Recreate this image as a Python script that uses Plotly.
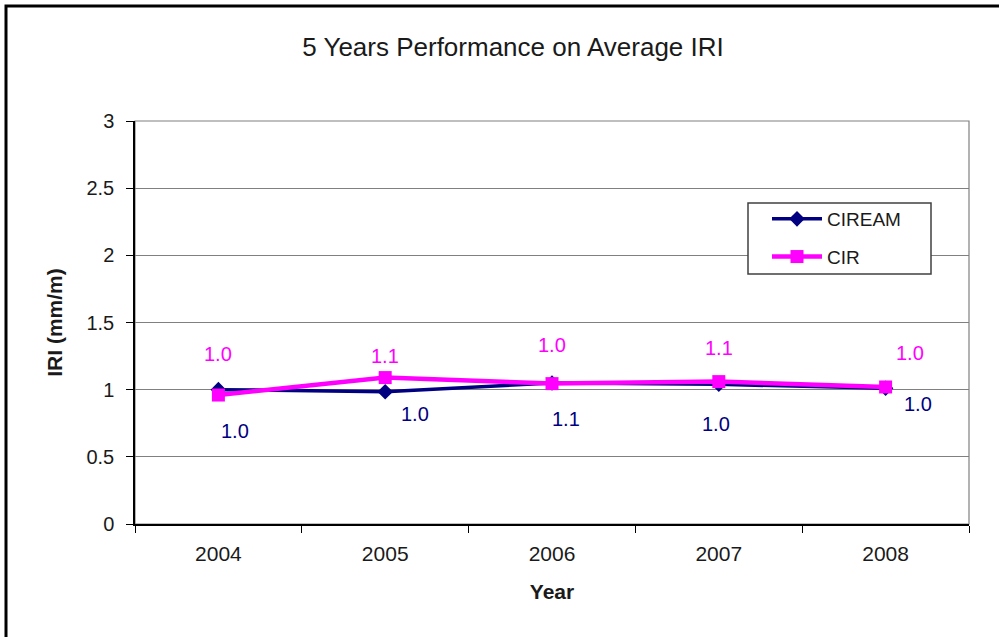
import plotly.graph_objects as go

years = ["2004", "2005", "2006", "2007", "2008"]
ciream = [1.00, 0.985, 1.05, 1.04, 1.01]
cir = [0.96, 1.09, 1.045, 1.06, 1.02]
y_ticks = [0, 0.5, 1, 1.5, 2, 2.5, 3]
y_tick_labels = ["0", "0.5", "1", "1.5", "2", "2.5", "3"]

# label offsets (pixels) for the data labels
cir_shift = [(0, 41), (0, 22), (0, 39), (0, 34), (24, 34)]
ciream_shift = [(17, -41), (30, -22), (14, -36), (-3, -40), (32, -16)]

NAVY = "#000080"
MAGENTA = "#FF00FF"
FONT = "Liberation Sans, Arial, sans-serif"
TXT = "#1a1a1a"

W, H = 999, 637
PL, PR, PT, PB = 135, 969, 121, 524
pw, ph = PR - PL, PB - PT

def px_x(x):
    return (x - PL) / pw

def px_y(y):
    return 1 - (y - PT) / ph

fig = go.Figure()
fig.add_trace(go.Scatter(
    x=years, y=ciream, name="CIREAM", mode="lines+markers", legendgroup="a",
    line=dict(color=NAVY, width=3.5),
    marker=dict(symbol="diamond", size=12, color=NAVY),
))
fig.add_trace(go.Scatter(
    x=years, y=cir, name="CIR", mode="lines+markers", legendgroup="b",
    line=dict(color=MAGENTA, width=4.5),
    marker=dict(symbol="square", size=13, color=MAGENTA),
))

annotations = []
for i, yr in enumerate(years):
    annotations.append(dict(
        x=i, y=cir[i], xref="x", yref="y", text=f"{cir[i]:.1f}",
        showarrow=False, xshift=cir_shift[i][0], yshift=cir_shift[i][1],
        font=dict(family=FONT, size=20, color=MAGENTA)))
    annotations.append(dict(
        x=i, y=ciream[i], xref="x", yref="y", text=f"{ciream[i]:.1f}",
        showarrow=False, xshift=ciream_shift[i][0], yshift=ciream_shift[i][1],
        font=dict(family=FONT, size=20, color=NAVY)))

fig.update_layout(
    width=W, height=H,
    paper_bgcolor="white", plot_bgcolor="white",
    margin=dict(l=PL, r=W - PR, t=PT, b=H - PB),
    font=dict(family=FONT, size=20, color=TXT),
    title=dict(text="5 Years Performance on Average IRI", x=513 / W, xanchor="center",
               y=1 - 47 / H, yanchor="middle",
               font=dict(family=FONT, size=26, color=TXT)),
    showlegend=True,
    legend=dict(x=px_x(767), y=px_y(200), xanchor="left", yanchor="top",
                bgcolor="rgba(0,0,0,0)", borderwidth=0,
                font=dict(family=FONT, size=19, color=TXT),
                itemwidth=50, traceorder="grouped", tracegroupgap=10),
    annotations=annotations,
    shapes=[
        dict(type="rect", xref="paper", yref="paper", x0=0, x1=1, y0=0, y1=1,
             line=dict(color="#808080", width=1.2), layer="below"),
        # legend box
        dict(type="rect", xref="paper", yref="paper",
             x0=px_x(748), x1=px_x(931), y0=px_y(274), y1=px_y(203),
             fillcolor="white", line=dict(color="#404040", width=1.5), layer="above"),
        # outer frame
        dict(type="rect", xref="paper", yref="paper",
             x0=px_x(6), x1=1.1, y0=-0.5, y1=px_y(6),
             line=dict(color="black", width=3)),
    ],
)
fig.update_xaxes(
    type="category", range=[-0.5, 4.5], tickson="boundaries",
    ticks="outside", ticklen=7, tickcolor="black",
    showline=True, linecolor="black", linewidth=1.5,
    showgrid=False, ticklabelstandoff=10,
    tickfont=dict(family=FONT, size=21, color=TXT),
    title=dict(text="<b>Year</b>", font=dict(family=FONT, size=21, color=TXT), standoff=20),
)
fig.update_yaxes(
    range=[0, 3], tickvals=y_ticks, ticktext=y_tick_labels,
    ticks="outside", ticklen=7, tickcolor="black",
    showline=True, linecolor="black", linewidth=1.5,
    showgrid=True, gridcolor="#808080", gridwidth=1.2, zeroline=False,
    ticklabelstandoff=8,
    tickfont=dict(family=FONT, size=20, color=TXT),
    title=dict(text="<b>IRI (mm/m)</b>", font=dict(family=FONT, size=21, color=TXT), standoff=18),
)

fig.write_html("out.html", config={"displayModeBar": False},
               post_script="document.body.style.margin='0';document.body.style.overflow='hidden';")
